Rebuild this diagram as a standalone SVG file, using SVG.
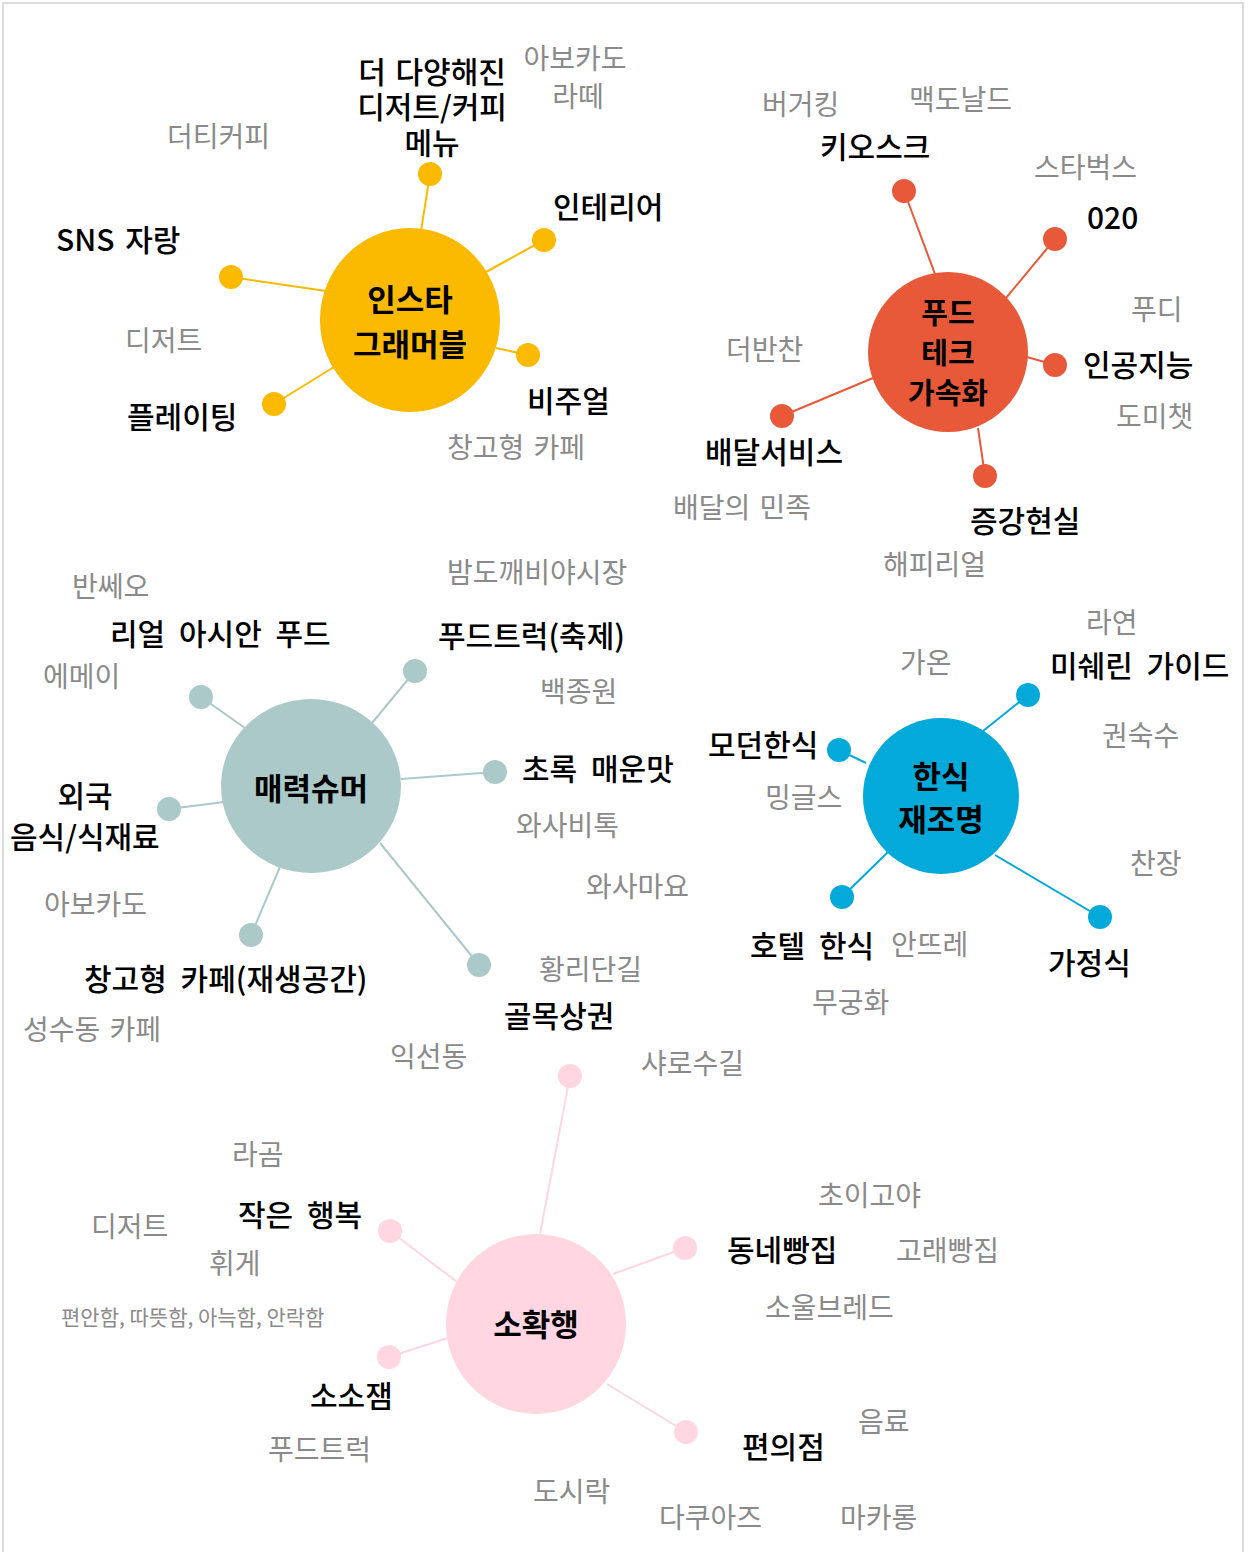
<svg xmlns="http://www.w3.org/2000/svg" width="1254" height="1552" viewBox="0 0 1254 1552">
<style>
text{font-family:"Noto Sans CJK KR","Noto Sans",sans-serif}
.k{font-size:30px;font-weight:500;fill:#000;word-spacing:7px}
.g{font-size:28px;font-weight:400;fill:#8a8a8a;word-spacing:3px}
.c{font-size:31px;font-weight:700;fill:#000;text-anchor:middle}
.s{font-size:21px;font-weight:400;fill:#8a8a8a}
.ly{stroke:#FBBA00;stroke-width:2}
.lo{stroke:#E8593A;stroke-width:2}
.lt{stroke:#ABC9C8;stroke-width:2}
.lb{stroke:#03A9D8;stroke-width:2}
.lp{stroke:#FFD6E1;stroke-width:2}
.y{fill:#FBBA00}.o{fill:#E8593A}.t{fill:#ABC9C8}.b{fill:#03A9D8}.p{fill:#FFD6E1}
</style>
<rect x="3" y="3" width="1240" height="1570" fill="#fff" stroke="#dcdcdc" stroke-width="2"/>
<g id="connectors">
<line class="ly" x1="430" y1="174" x2="421" y2="231"/>
<line class="ly" x1="544" y1="240" x2="486" y2="272"/>
<line class="ly" x1="231" y1="277" x2="326" y2="291"/>
<line class="ly" x1="528" y1="355" x2="496" y2="348"/>
<line class="ly" x1="274" y1="404" x2="334" y2="367"/>
<line class="lo" x1="904" y1="191" x2="935" y2="274"/>
<line class="lo" x1="1055" y1="239" x2="1006" y2="298"/>
<line class="lo" x1="1055" y1="365" x2="1027" y2="357"/>
<line class="lo" x1="782" y1="416" x2="873" y2="378"/>
<line class="lo" x1="985" y1="476" x2="978" y2="428"/>
<line class="lt" x1="201" y1="697" x2="245" y2="728"/>
<line class="lt" x1="415" y1="671" x2="372" y2="723"/>
<line class="lt" x1="495" y1="772" x2="401" y2="779"/>
<line class="lt" x1="169" y1="809" x2="224" y2="802"/>
<line class="lt" x1="251" y1="935" x2="280" y2="867"/>
<line class="lt" x1="479" y1="965" x2="380" y2="843"/>
<line class="lb" x1="1028" y1="695" x2="983" y2="731"/>
<line class="lb" x1="839" y1="750" x2="866" y2="763"/>
<line class="lb" x1="842" y1="897" x2="888" y2="852"/>
<line class="lb" x1="1100" y1="917" x2="995" y2="855"/>
<line class="lp" x1="570" y1="1076" x2="540" y2="1234"/>
<line class="lp" x1="390" y1="1231" x2="457" y2="1282"/>
<line class="lp" x1="685" y1="1248" x2="613" y2="1274"/>
<line class="lp" x1="389" y1="1357" x2="448" y2="1338"/>
<line class="lp" x1="686" y1="1432" x2="607" y2="1384"/>
</g>
<g id="insta">
<ellipse class="y" cx="410" cy="320" rx="90" ry="92"/>
<text class="c" x="410" y="311">인스타</text>
<text class="c" x="410" y="356">그래머블</text>
</g>
<g id="insta-leaves">
<circle class="y" cx="430" cy="174" r="12"/>
<circle class="y" cx="544" cy="240" r="12"/>
<circle class="y" cx="231" cy="277" r="12"/>
<circle class="y" cx="528" cy="355" r="12"/>
<circle class="y" cx="274" cy="404" r="12"/>
<text class="k" x="432" y="83" text-anchor="middle" style="word-spacing:3px">더 다양해진</text>
<text class="k" x="432" y="118" text-anchor="middle">디저트/커피</text>
<text class="k" x="432" y="154" text-anchor="middle">메뉴</text>
<text class="k" x="553" y="218">인테리어</text>
<text class="k" x="56" y="251" style="word-spacing:4px">SNS 자랑</text>
<text class="k" x="527" y="412">비주얼</text>
<text class="k" x="127" y="428">플레이팅</text>
<text class="g" x="575" y="69" text-anchor="middle">아보카도</text>
<text class="g" x="578" y="107" text-anchor="middle">라떼</text>
<text class="g" x="167" y="147">더티커피</text>
<text class="g" x="125" y="351">디저트</text>
<text class="g" x="447" y="458">창고형 카페</text>
</g>
<g id="foodtech">
<circle class="o" cx="948" cy="352" r="80"/>
<text class="c" x="948" y="324" style="font-size:29px">푸드</text>
<text class="c" x="948" y="364" style="font-size:29px">테크</text>
<text class="c" x="948" y="404" style="font-size:29px">가속화</text>
</g>
<g id="foodtech-leaves">
<circle class="o" cx="904" cy="191" r="12"/>
<circle class="o" cx="1055" cy="239" r="12"/>
<circle class="o" cx="1055" cy="365" r="12"/>
<circle class="o" cx="782" cy="416" r="12"/>
<circle class="o" cx="985" cy="476" r="12"/>
<text class="k" x="820" y="158">키오스크</text>
<text class="k" x="1087" y="229">020</text>
<text class="k" x="1083" y="376">인공지능</text>
<text class="k" x="705" y="463">배달서비스</text>
<text class="k" x="970" y="532">증강현실</text>
<text class="g" x="762" y="115">버거킹</text>
<text class="g" x="909" y="110">맥도날드</text>
<text class="g" x="1034" y="178">스타벅스</text>
<text class="g" x="1131" y="320">푸디</text>
<text class="g" x="726" y="360">더반찬</text>
<text class="g" x="1116" y="427">도미챗</text>
<text class="g" x="673" y="518">배달의 민족</text>
<text class="g" x="883" y="575">해피리얼</text>
</g>
<g id="charmsumer">
<ellipse class="t" cx="311" cy="786" rx="90" ry="87"/>
<text class="c" x="311" y="800">매력슈머</text>
</g>
<g id="charmsumer-leaves">
<circle class="t" cx="201" cy="697" r="12"/>
<circle class="t" cx="415" cy="671" r="12"/>
<circle class="t" cx="495" cy="772" r="12"/>
<circle class="t" cx="169" cy="809" r="12"/>
<circle class="t" cx="251" cy="935" r="12"/>
<circle class="t" cx="479" cy="965" r="12"/>
<text class="k" x="110" y="645">리얼 아시안 푸드</text>
<text class="k" x="438" y="647">푸드트럭(축제)</text>
<text class="k" x="522" y="780">초록 매운맛</text>
<text class="k" x="85" y="807" text-anchor="middle">외국</text>
<text class="k" x="10" y="848">음식/식재료</text>
<text class="k" x="84" y="990">창고형 카페(재생공간)</text>
<text class="k" x="504" y="1027">골목상권</text>
<text class="g" x="72" y="597">반쎄오</text>
<text class="g" x="447" y="583">밤도깨비야시장</text>
<text class="g" x="43" y="687">에메이</text>
<text class="g" x="540" y="702">백종원</text>
<text class="g" x="516" y="836">와사비톡</text>
<text class="g" x="586" y="897">와사마요</text>
<text class="g" x="44" y="915">아보카도</text>
<text class="g" x="539" y="980">황리단길</text>
<text class="g" x="23" y="1040">성수동 카페</text>
<text class="g" x="390" y="1067">익선동</text>
</g>
<g id="hansik">
<circle class="b" cx="941" cy="796" r="78"/>
<text class="c" x="941" y="788">한식</text>
<text class="c" x="941" y="831">재조명</text>
</g>
<g id="hansik-leaves">
<circle class="b" cx="1028" cy="695" r="12"/>
<circle class="b" cx="839" cy="750" r="12"/>
<circle class="b" cx="842" cy="897" r="12"/>
<circle class="b" cx="1100" cy="917" r="12"/>
<text class="k" x="1050" y="677">미쉐린 가이드</text>
<text class="k" x="708" y="756">모던한식</text>
<text class="k" x="750" y="957">호텔 한식</text>
<text class="k" x="1048" y="974">가정식</text>
<text class="g" x="1086" y="633">라연</text>
<text class="g" x="900" y="673">가온</text>
<text class="g" x="1102" y="746">권숙수</text>
<text class="g" x="765" y="808">밍글스</text>
<text class="g" x="1130" y="874">찬장</text>
<text class="g" x="891" y="955">안뜨레</text>
<text class="g" x="812" y="1013">무궁화</text>
</g>
<g id="sohwakhaeng">
<circle class="p" cx="536" cy="1324" r="90"/>
<text class="c" x="536" y="1336">소확행</text>
</g>
<g id="sohwakhaeng-leaves">
<circle class="p" cx="570" cy="1076" r="12"/>
<circle class="p" cx="390" cy="1231" r="12"/>
<circle class="p" cx="685" cy="1248" r="12"/>
<circle class="p" cx="389" cy="1357" r="12"/>
<circle class="p" cx="686" cy="1432" r="12"/>
<text class="k" x="238" y="1226">작은 행복</text>
<text class="k" x="727" y="1261">동네빵집</text>
<text class="k" x="310" y="1407">소소잼</text>
<text class="k" x="742" y="1458">편의점</text>
<text class="g" x="641" y="1074">샤로수길</text>
<text class="g" x="232" y="1165">라곰</text>
<text class="g" x="91" y="1237">디저트</text>
<text class="g" x="209" y="1274">휘게</text>
<text class="s" x="61" y="1325">편안함, 따뜻함, 아늑함, 안락함</text>
<text class="g" x="818" y="1206">초이고야</text>
<text class="g" x="896" y="1261">고래빵집</text>
<text class="g" x="765" y="1318">소울브레드</text>
<text class="g" x="858" y="1432">음료</text>
<text class="g" x="268" y="1460">푸드트럭</text>
<text class="g" x="533" y="1502">도시락</text>
<text class="g" x="659" y="1528">다쿠아즈</text>
<text class="g" x="840" y="1528">마카롱</text>
</g>
</svg>
